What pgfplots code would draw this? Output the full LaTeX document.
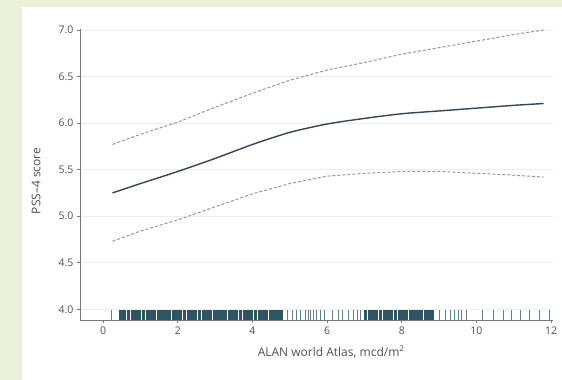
\documentclass[border=0pt]{standalone}
\usepackage{pgfplots}
\pgfplotsset{compat=1.18}
\usepackage{fontspec}
\setmainfont{Open Sans}
\definecolor{bgc}{RGB}{235,240,217}
\definecolor{txt}{RGB}{80,80,80}
\definecolor{axc}{RGB}{120,120,120}
\definecolor{gridc}{RGB}{236,236,236}
\definecolor{mainc}{RGB}{50,70,85}
\definecolor{ciC}{RGB}{150,150,150}
\definecolor{rugc}{RGB}{45,85,102}
\begin{document}
\begin{tikzpicture}[x=1pt,y=1pt]
\useasboundingbox (0,0) rectangle (562,380);
\fill[bgc] (0,0) rectangle (562,380);
\fill[white] (22,0) rectangle (562,373);
\begin{axis}[
  at={(80pt,60pt)}, anchor=south west,
  scale only axis, width=473pt, height=291pt,
  xmin=-0.62, xmax=12.05, ymin=3.885, ymax=7.01,
  axis x line*=bottom, axis y line*=left,
  axis line style={draw=axc, line width=0.8pt},
  tick align=outside, major tick length=3pt,
  tick style={draw=axc, line width=0.8pt},
  xtick={0,2,4,6,8,10,12},
  ytick={4.0,4.5,5.0,5.5,6.0,6.5,7.0},
  ymajorgrids, grid style={draw=gridc, line width=0.8pt},
  /pgf/number format/assume math mode=true,
  yticklabel style={/pgf/number format/.cd, fixed, fixed zerofill, precision=1},
  ticklabel style={font=\fontsize{10.5}{12}\selectfont, text=txt},
  xlabel={ALAN world Atlas, mcd/m\textsuperscript{2}},
  ylabel={PSS--4 score},
  every axis x label/.style={at={(axis description cs:0.531,-0.110)}, anchor=center, font=\fontsize{12}{14}\selectfont, text=txt},
  every axis y label/.style={at={(axis description cs:-0.093,0.478)}, rotate=90, anchor=center, font=\fontsize{12}{14}\selectfont, text=txt},
  clip=false,
]
% upper CI
\addplot[ciC, line width=1pt, dash pattern=on 3pt off 2pt] coordinates {
(0.25,5.77) (1,5.88) (2,6.01) (3,6.17) (4,6.32) (5,6.46) (6,6.57) (7,6.65) (8,6.74) (9,6.81) (10,6.88) (11,6.95) (11.8,7.00)};
% lower CI
\addplot[ciC, line width=1pt, dash pattern=on 3pt off 2pt] coordinates {
(0.25,4.73) (1,4.84) (2,4.96) (3,5.10) (4,5.24) (5,5.35) (6,5.43) (7,5.46) (8,5.48) (9,5.48) (10,5.46) (11,5.44) (11.8,5.42)};
% estimate
\addplot[mainc, line width=1.4pt, smooth, tension=0.4] coordinates {
(0.25,5.25) (1,5.35) (2,5.48) (3,5.62) (4,5.77) (5,5.90) (6,5.99) (7,6.05) (8,6.10) (9,6.13) (10,6.16) (11,6.19) (11.8,6.21)};
% rug: dense bands
\addplot[only marks, mark=|, mark size=5pt, mark options={draw=rugc, line width=3.3pt}] coordinates {
(0.48,3.94) (0.58,3.94) (0.68,3.94) (0.78,3.94) (0.88,3.94) (0.98,3.94) (1.08,3.94) (1.18,3.94) (1.28,3.94) (1.38,3.94)
(1.48,3.94) (1.58,3.94) (1.68,3.94) (1.78,3.94) (1.88,3.94) (1.98,3.94) (2.08,3.94) (2.18,3.94) (2.28,3.94) (2.38,3.94)
(2.48,3.94) (2.58,3.94) (2.68,3.94) (2.78,3.94) (2.88,3.94) (2.98,3.94) (3.08,3.94) (3.18,3.94) (3.28,3.94) (3.38,3.94)
(3.48,3.94) (3.58,3.94) (3.68,3.94) (3.78,3.94) (3.88,3.94) (3.98,3.94) (4.08,3.94) (4.18,3.94) (4.28,3.94) (4.38,3.94)
(4.48,3.94) (4.58,3.94) (4.68,3.94) (4.78,3.94)
(7.03,3.94) (7.13,3.94) (7.23,3.94) (7.33,3.94) (7.43,3.94) (7.53,3.94) (7.63,3.94) (7.73,3.94) (7.83,3.94) (7.93,3.94)
(8.03,3.94) (8.13,3.94) (8.23,3.94) (8.33,3.94) (8.43,3.94) (8.53,3.94) (8.63,3.94) (8.73,3.94) (8.83,3.94)};
% rug: sparse ticks
\addplot[only marks, mark=|, mark size=5pt, mark options={draw=rugc!75, line width=0.9pt}] coordinates {
(0.22,3.94) (4.93,3.94) (5.07,3.94) (5.17,3.94) (5.29,3.94) (5.41,3.94) (5.51,3.94) (5.56,3.94) (5.64,3.94) (5.71,3.94)
(5.82,3.94) (5.94,3.94) (6.13,3.94) (6.29,3.94) (6.40,3.94) (6.58,3.94) (6.70,3.94) (6.80,3.94) (6.88,3.94)
(9.02,3.94) (9.16,3.94) (9.29,3.94) (9.41,3.94) (9.51,3.94) (9.60,3.94) (9.73,3.94)
(10.15,3.94) (10.45,3.94) (10.72,3.94) (10.95,3.94) (11.18,3.94) (11.43,3.94) (11.68,3.94) (11.96,3.94)};
\end{axis}
\end{tikzpicture}
\end{document}
